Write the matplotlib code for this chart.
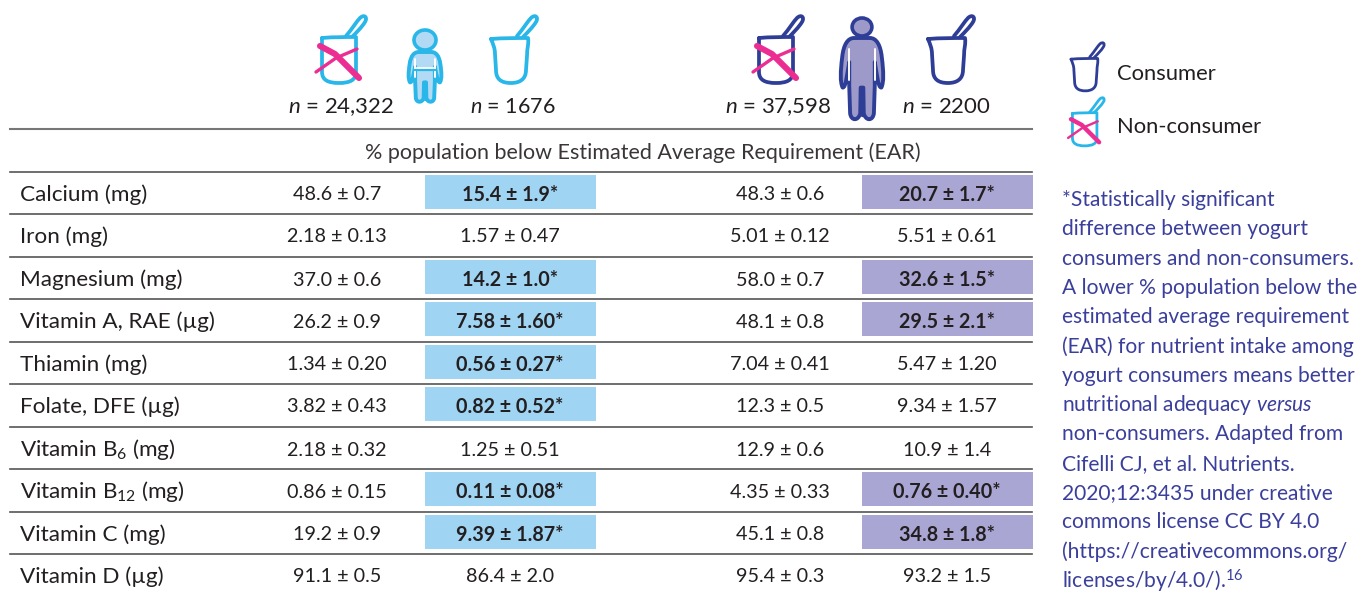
import matplotlib
matplotlib.use('Agg')
import matplotlib.pyplot as plt
from matplotlib.patches import PathPatch, Rectangle, Ellipse
from matplotlib.path import Path
from matplotlib.transforms import Affine2D

plt.rcParams['font.family'] = 'Lato'
plt.rcParams['mathtext.fontset'] = 'custom'
plt.rcParams['mathtext.rm'] = 'Lato'
plt.rcParams['mathtext.it'] = 'Lato:italic'
plt.rcParams['mathtext.bf'] = 'Lato:bold'

light_blue = '#29b6e8'
dark_blue = '#2e3d96'
pink = '#ec2e93'
cell_blue = '#a0d4f3'
cell_purple = '#aaa6d4'
text_col = '#231f20'
note_col = '#3b3f9c'

nutrients = ['Calcium (mg)', 'Iron (mg)', 'Magnesium (mg)', 'Vitamin A, RAE (µg)', 'Thiamin (mg)',
             'Folate, DFE (µg)', r'Vitamin B$_{6}$ (mg)', r'Vitamin B$_{12}$ (mg)', 'Vitamin C (mg)',
             'Vitamin D (µg)']
child_non = ['48.6 ± 0.7', '2.18 ± 0.13', '37.0 ± 0.6', '26.2 ± 0.9', '1.34 ± 0.20',
             '3.82 ± 0.43', '2.18 ± 0.32', '0.86 ± 0.15', '19.2 ± 0.9', '91.1 ± 0.5']
child_con = ['15.4 ± 1.9*', '1.57 ± 0.47', '14.2 ± 1.0*', '7.58 ± 1.60*', '0.56 ± 0.27*',
             '0.82 ± 0.52*', '1.25 ± 0.51', '0.11 ± 0.08*', '9.39 ± 1.87*', '86.4 ± 2.0']
adult_non = ['48.3 ± 0.6', '5.01 ± 0.12', '58.0 ± 0.7', '48.1 ± 0.8', '7.04 ± 0.41',
             '12.3 ± 0.5', '12.9 ± 0.6', '4.35 ± 0.33', '45.1 ± 0.8', '95.4 ± 0.3']
adult_con = ['20.7 ± 1.7*', '5.51 ± 0.61', '32.6 ± 1.5*', '29.5 ± 2.1*', '5.47 ± 1.20',
             '9.34 ± 1.57', '10.9 ± 1.4', '0.76 ± 0.40*', '34.8 ± 1.8*', '93.2 ± 1.5']
footnote = ['*Statistically significant', 'difference between yogurt', 'consumers and non-consumers.',
            'A lower % population below the', 'estimated average requirement',
            '(EAR) for nutrient intake among', 'yogurt consumers means better',
            r'nutritional adequacy $\mathit{versus}$', 'non-consumers. Adapted from',
            'Cifelli CJ, et al. Nutrients.', '2020;12:3435 under creative', 'commons license CC BY 4.0',
            '(https://creativecommons.org/', r'licenses/by/4.0/).$^{16}$']

C = Path.CURVE4
L = Path.LINETO
M = Path.MOVETO

# cup with the small flared rim
CUP = Path([(0, 3), (12, 2), (25, 2), (37, 2), (38, 8), (36, 12), (36, 20), (35, 34),
            (35, 43), (29, 47), (20, 47), (10, 47), (5, 43), (5, 34), (4, 18), (4, 12), (2, 8), (0, 3)],
           [M, C, C, C, C, C, C, L, C, C, C, C, C, C, L, C, C, C])
# the crossed cup has a plain square rim
CUP_NON = Path([(2, 2), (13, 1), (25, 1), (36, 1), (36, 36), (36, 44), (30, 47), (19, 47),
                (8, 47), (2, 44), (2, 36), (2, 2)],
               [M, C, C, C, L, C, C, C, C, C, C, L])
SPOON = Path([(26, 0), (32, -7), (37, -15), (40, -18), (44, -22), (48, -19), (45, -14), (42, -9), (36, -3), (32, 1)],
             [M] + [C] * 9)
BODY = Path([(32, 0), (68, 0), (82, 0), (92, 8), (95, 24), (99, 42), (100, 55), (94, 62), (86, 62), (84, 45), (79, 30),
             (79, 60), (77, 94), (75, 104), (58, 104), (54, 94), (53, 62), (47, 62), (46, 94), (42, 104), (25, 104),
             (23, 94), (21, 60), (21, 30), (16, 45), (14, 62), (6, 62), (0, 55), (1, 42), (5, 24), (8, 8), (18, 0),
             (32, 0)],
            [M, L] + [C] * 9 + [L, L] + [C] * 3 + [L, L, L] + [C] * 3 + [L, L] + [C] * 9)


def add_path(ax, path, x, y, sx, sy, **kw):
    ax.add_patch(PathPatch(path.transformed(Affine2D().scale(sx, sy).translate(x, y)), **kw))


def draw_cup(ax, x, y, col, scale=1.0, crossed=False):
    lw = 2.5 * scale + 0.2
    body = CUP_NON if crossed else CUP
    add_path(ax, SPOON, x, y, scale, scale, fc='white', ec=col, lw=lw, capstyle='round', joinstyle='round')
    add_path(ax, body, x, y, scale, scale, fc='white', ec=col, lw=lw, capstyle='round', joinstyle='round')
    if crossed:
        ax.plot([x + 0 * scale, x + 15 * scale, x + 39 * scale], [y + 10 * scale, y + 18 * scale, y + 42 * scale],
                color=pink, lw=4.4 * scale, solid_capstyle='round')
        ax.plot([x - 4 * scale, x + 16 * scale, x + 37 * scale], [y + 36 * scale, y + 22 * scale, y + 13 * scale],
                color=pink, lw=2.4 * scale, solid_capstyle='round')


def draw_person(ax, cx, top, w, h, head_h, col, fill, belt=False):
    ax.add_patch(Ellipse((cx, top + head_h / 2), head_h * 1.1, head_h, fc=fill, ec=col, lw=2.6))
    y0 = top + head_h + 2
    sy = (h - head_h - 2) / 100
    add_path(ax, BODY, cx - w / 2, y0, w / 100, sy, fc=fill, ec=col, lw=2.8, joinstyle='round')
    for side in (-1, 1):
        xs = cx + side * 0.3 * w
        ax.plot([xs, xs], [y0 + 14 * sy, y0 + 52 * sy], color='white', lw=1.4, solid_capstyle='round')
    ax.plot([cx, cx], [y0 + 62 * sy, y0 + 96 * sy], color=col, lw=2.4, solid_capstyle='round')
    if belt:
        ax.plot([cx - 0.28 * w, cx + 0.28 * w], [y0 + 36 * sy, y0 + 36 * sy], color=col, lw=1.6)
        ax.plot([cx - 0.28 * w, cx + 0.28 * w], [y0 + 33 * sy, y0 + 33 * sy], color='white', lw=1.2)


fig = plt.figure(figsize=(13.71, 5.95), dpi=100)
ax = fig.add_axes([0, 0, 1, 1])
ax.set_xlim(0, 1371)
ax.set_ylim(595, 0)
ax.axis('off')

# row lines
row_lines = [172, 214, 257, 299, 342, 384, 427, 469, 512, 554]
ax.plot([10, 1032], [129, 129], color='#777777', lw=1.5)
for yl in row_lines:
    ax.plot([10, 1032], [yl, yl], color='#555555', lw=1.2)

ax.text(643, 153, '% population below Estimated Average Requirement (EAR)', ha='center', va='center',
        fontsize=15.45, color='#3a3637')

# table body
col_x = [337, 510, 780, 947]
for i, name in enumerate(nutrients):
    yc = row_lines[i] + 23
    ax.text(20, yc, name, ha='left', va='center', fontsize=16.2, color=text_col)
    ax.text(col_x[0], yc, child_non[i], ha='center', va='center', fontsize=14.2, color=text_col)
    ax.text(col_x[2], yc, adult_non[i], ha='center', va='center', fontsize=14.2, color=text_col)
    for x0, width, xc, val, fill in [(425, 171, col_x[1], child_con[i], cell_blue),
                                     (862, 171, col_x[3], adult_con[i], cell_purple)]:
        sig = val.endswith('*')
        if sig:
            ax.add_patch(Rectangle((x0, row_lines[i] + 3), width, 34, fc=fill, ec='none'))
        ax.text(xc, yc, val, ha='center', va='center', fontsize=14.2, color=text_col,
                fontweight='bold' if sig else 'normal')

# header icons
draw_cup(ax, 320, 36, light_blue, crossed=True)
draw_cup(ax, 491, 36, light_blue)
draw_person(ax, 425, 30, 34, 71, 20, light_blue, '#b3daf4', belt=True)
draw_cup(ax, 757, 36, dark_blue, crossed=True)
draw_cup(ax, 928, 36, dark_blue)
draw_person(ax, 862, 18, 44, 100, 18, dark_blue, '#9d9aca')

ax.text(288, 107, r'$\mathit{n}$ = 24,322', ha='left', va='center', fontsize=16, color=text_col)
ax.text(470, 107, r'$\mathit{n}$ = 1676', ha='left', va='center', fontsize=15.5, color=text_col)
ax.text(725, 107, r'$\mathit{n}$ = 37,598', ha='left', va='center', fontsize=16, color=text_col)
ax.text(902, 107, r'$\mathit{n}$ = 2200', ha='left', va='center', fontsize=16, color=text_col)

# legend
draw_cup(ax, 1071, 57, dark_blue, scale=0.72)
draw_cup(ax, 1071, 112, light_blue, scale=0.72, crossed=True)
ax.text(1117, 74, 'Consumer', ha='left', va='center', fontsize=15.8, color=text_col)
ax.text(1117, 127, 'Non-consumer', ha='left', va='center', fontsize=15.8, color=text_col)

for i, line in enumerate(footnote):
    ax.text(1062, 200 + i * 29.3, line, ha='left', va='center', fontsize=15.1, color=note_col)

fig.savefig('out.png', dpi=100)
